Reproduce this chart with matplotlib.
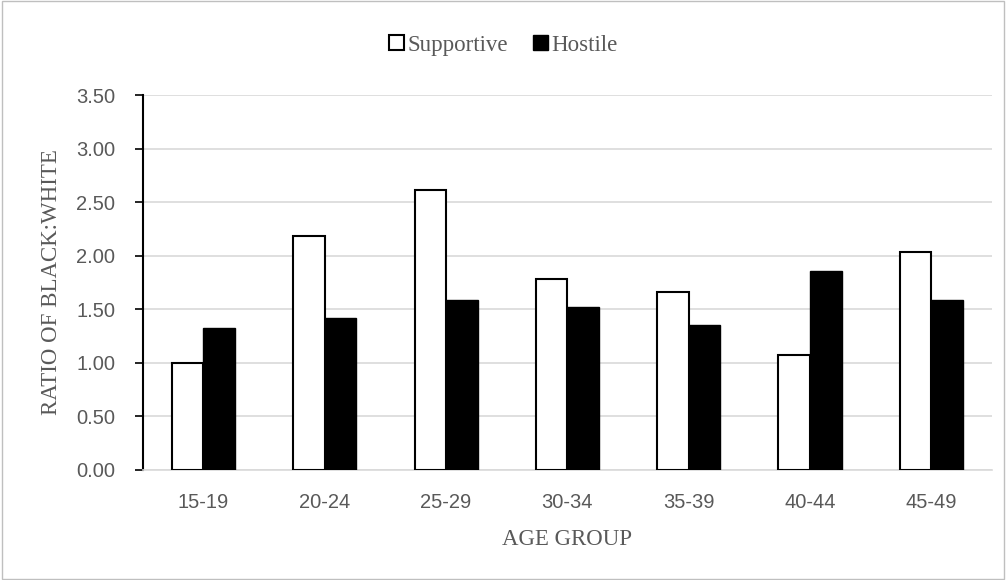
import numpy as np
import matplotlib
matplotlib.use('Agg')
import matplotlib.pyplot as plt
from matplotlib.patches import Rectangle

#data
age_groups = ['15-19', '20-24', '25-29', '30-34', '35-39', '40-44', '45-49']
supportive = [1.00, 2.18, 2.61, 1.78, 1.66, 1.07, 2.03]
hostile = [1.32, 1.42, 1.59, 1.52, 1.35, 1.86, 1.59]
yticks = [0.0, 0.5, 1.0, 1.5, 2.0, 2.5, 3.0, 3.5]

serif = 'Liberation Serif'
sans = 'Liberation Sans'
txt_color = '#595959'
grid_color = '#d9d9d9'

fig = plt.figure(figsize=(10.06, 5.8), dpi=100)
ax = fig.add_axes([0.142, 0.19, 0.844, 0.646])

x = np.arange(len(age_groups))
w = 0.26
ax.bar(x - w/2, supportive, w, facecolor='white', edgecolor='black', linewidth=1.5, label='Supportive', zorder=3)
ax.bar(x + w/2, hostile, w, facecolor='black', edgecolor='black', linewidth=1.0, label='Hostile', zorder=3)

ax.set_xlim(-0.5, len(age_groups) - 0.5)
ax.set_ylim(0, 3.5)
ax.set_yticks(yticks)
ax.set_yticklabels(['%.2f' % v for v in yticks], fontsize=14.5, color=txt_color, family=sans)
ax.set_xticks(x)
ax.set_xticklabels(age_groups, fontsize=14.5, color=txt_color, family=sans)
ax.tick_params(axis='x', length=0, pad=17)
ax.tick_params(axis='y', length=6, width=1.2, color='black', direction='out', pad=14)
ax.grid(axis='y', color=grid_color, linewidth=1.2, zorder=0)

for s in ['top', 'right']:
    ax.spines[s].set_visible(False)
ax.spines['left'].set_color('black')
ax.spines['left'].set_linewidth(1.5)
ax.spines['bottom'].set_color(grid_color)
ax.spines['bottom'].set_linewidth(1.2)

ax.set_ylabel('RATIO OF BLACK:WHITE', fontsize=16.5, color=txt_color, family=serif, labelpad=10)
ax.set_xlabel('AGE GROUP', fontsize=16.5, color=txt_color, family=serif, labelpad=12)

leg = fig.legend(loc='center', bbox_to_anchor=(0.5, 0.922), ncol=2, frameon=False,
                 prop={'family': serif, 'size': 16.5}, handlelength=0.65, handleheight=0.65,
                 handletextpad=0.15, columnspacing=1.1, labelcolor=txt_color)

#thin frame round the whole picture
fig.patches.append(Rectangle((0.002, 0.002), 0.996, 0.996, transform=fig.transFigure,
                             fill=False, edgecolor='#bfbfbf', linewidth=1))

fig.savefig('out.png', dpi=100)
